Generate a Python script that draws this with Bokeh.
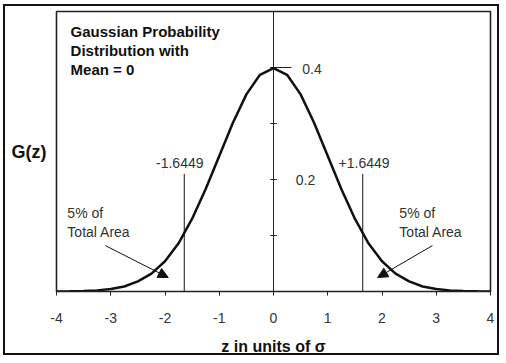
from bokeh.plotting import figure
from bokeh.models import Range1d, FixedTicker, Span, Arrow, NormalHead
from bokeh.core.properties import value
from bokeh.embed import file_html
from bokeh.resources import INLINE

# ---- data ----
z = [-4.0, -3.75, -3.5, -3.25, -3.0, -2.75, -2.5, -2.25, -2.0, -1.75, -1.5, -1.25,
     -1.0, -0.75, -0.5, -0.25, 0.0, 0.25, 0.5, 0.75, 1.0, 1.25, 1.5, 1.75,
     2.0, 2.25, 2.5, 2.75, 3.0, 3.25, 3.5, 3.75, 4.0]
g = [0.0001, 0.0004, 0.0009, 0.002, 0.0044, 0.009, 0.018, 0.032, 0.054, 0.086, 0.130, 0.183,
     0.242, 0.301, 0.352, 0.387, 0.399, 0.387, 0.352, 0.301, 0.242, 0.183, 0.130, 0.086,
     0.054, 0.032, 0.018, 0.009, 0.0044, 0.002, 0.0009, 0.0004, 0.0001]
x_ticks = [-4, -3, -2, -1, 0, 1, 2, 3, 4]
x_tick_labels = ["-4", "-3", "-2", "-1", "0", "1", "2", "3", "4"]
y_ticks = [0.1, 0.2, 0.3, 0.4]
y_tick_labels = ["0.2", "0.4"]
crit_z = [-1.6449, 1.6449]
crit_top = [0.21, 0.21]
crit_labels = ["-1.6449", "+1.6449"]
title_lines = ["Gaussian Probability", "Distribution with", "Mean = 0"]
area_lines = ["5% of", "Total Area"]
y_title = "G(z)"
x_title = "z in units of σ"

FONT = "Liberation Sans"

p = figure(width=496, height=351, output_backend="svg", toolbar_location=None,
           x_range=Range1d(-4, 4), y_range=Range1d(0, 0.5),
           min_border_left=51, min_border_right=11, min_border_top=5, min_border_bottom=64,
           styles={"border": "2px solid #111111", "margin-left": "3px", "margin-top": "4px"})
p.grid.visible = False
p.background_fill_color = "white"
p.border_fill_color = "white"
p.outline_line_color = "#222222"
p.outline_line_width = 1.6

ax = p.xaxis[0]
ax.ticker = FixedTicker(ticks=x_ticks)
ax.major_label_overrides = dict(zip(x_ticks, x_tick_labels))
ax.major_tick_out = 4
ax.major_tick_in = 0
ax.minor_tick_line_color = None
ax.axis_line_color = "#222222"
ax.major_tick_line_color = "#222222"
ax.major_label_text_font = FONT
ax.major_label_text_font_size = "14px"
ax.major_label_text_color = "#333333"
ax.major_label_standoff = 17
ax.axis_label = x_title
ax.axis_label_text_font = FONT
ax.axis_label_text_font_size = "16px"
ax.axis_label_text_font_style = "bold"
ax.axis_label_text_color = "#111111"
ax.axis_label_standoff = 12

yax = p.yaxis[0]
yax.ticker = FixedTicker(ticks=[])
yax.axis_line_color = None
yax.major_tick_line_color = None
yax.minor_tick_line_color = None
yax.axis_label = y_title
yax.axis_label_orientation = "horizontal"
yax.axis_label_text_font = FONT
yax.axis_label_text_font_size = "18px"
yax.axis_label_text_font_style = "bold"
yax.axis_label_text_color = "#111111"
yax.axis_label_standoff = 10

# central vertical axis
p.add_layout(Span(location=0, dimension="height", line_color="#222222", line_width=1))
p.segment(x0=[-0.06] * len(y_ticks), x1=[0.06] * 3 + [0.33], y0=y_ticks, y1=y_ticks,
          line_color="#222222", line_width=1)
p.text(x=[0.41, 0.53], y=[0.199, 0.398], text=y_tick_labels, text_font=value(FONT),
       text_font_size="14px", text_color="#333333", text_baseline="middle", text_align="left")

# gaussian curve
p.line(z, g, line_color="#111111", line_width=2.5)

# critical lines
p.segment(x0=crit_z, x1=crit_z, y0=[0, 0], y1=crit_top, line_color="#111111", line_width=1)
p.text(x=[-1.29], y=[0.229], text=[crit_labels[0]], text_font=value(FONT), text_font_size="14px",
       text_color="#333333", text_baseline="middle", text_align="right")
p.text(x=[1.20], y=[0.229], text=[crit_labels[1]], text_font=value(FONT), text_font_size="14px",
       text_color="#333333", text_baseline="middle", text_align="left")

# title lines
p.text(x=[-3.74] * 3, y=[0.464, 0.430, 0.397], text=title_lines, text_font=value(FONT),
       text_font_size="15px", text_font_style="bold", text_color="#111111",
       text_baseline="middle", text_align="left")

# area labels
p.text(x=[-3.80, -3.80, 2.32, 2.32], y=[0.141, 0.107, 0.141, 0.107],
       text=area_lines + area_lines, text_font=value(FONT), text_font_size="14px",
       text_color="#333333", text_baseline="middle", text_align="left")

# arrows
for (x0, y0, x1, y1) in [(-3.10, 0.082, -1.94, 0.025), (2.93, 0.082, 1.92, 0.025)]:
    p.add_layout(Arrow(x_start=x0, y_start=y0, x_end=x1, y_end=y1, line_color="#111111",
                       line_width=1, end=NormalHead(size=10, fill_color="#111111",
                                                    line_color="#111111")))

open("out.html", "w").write(file_html(p, INLINE))
